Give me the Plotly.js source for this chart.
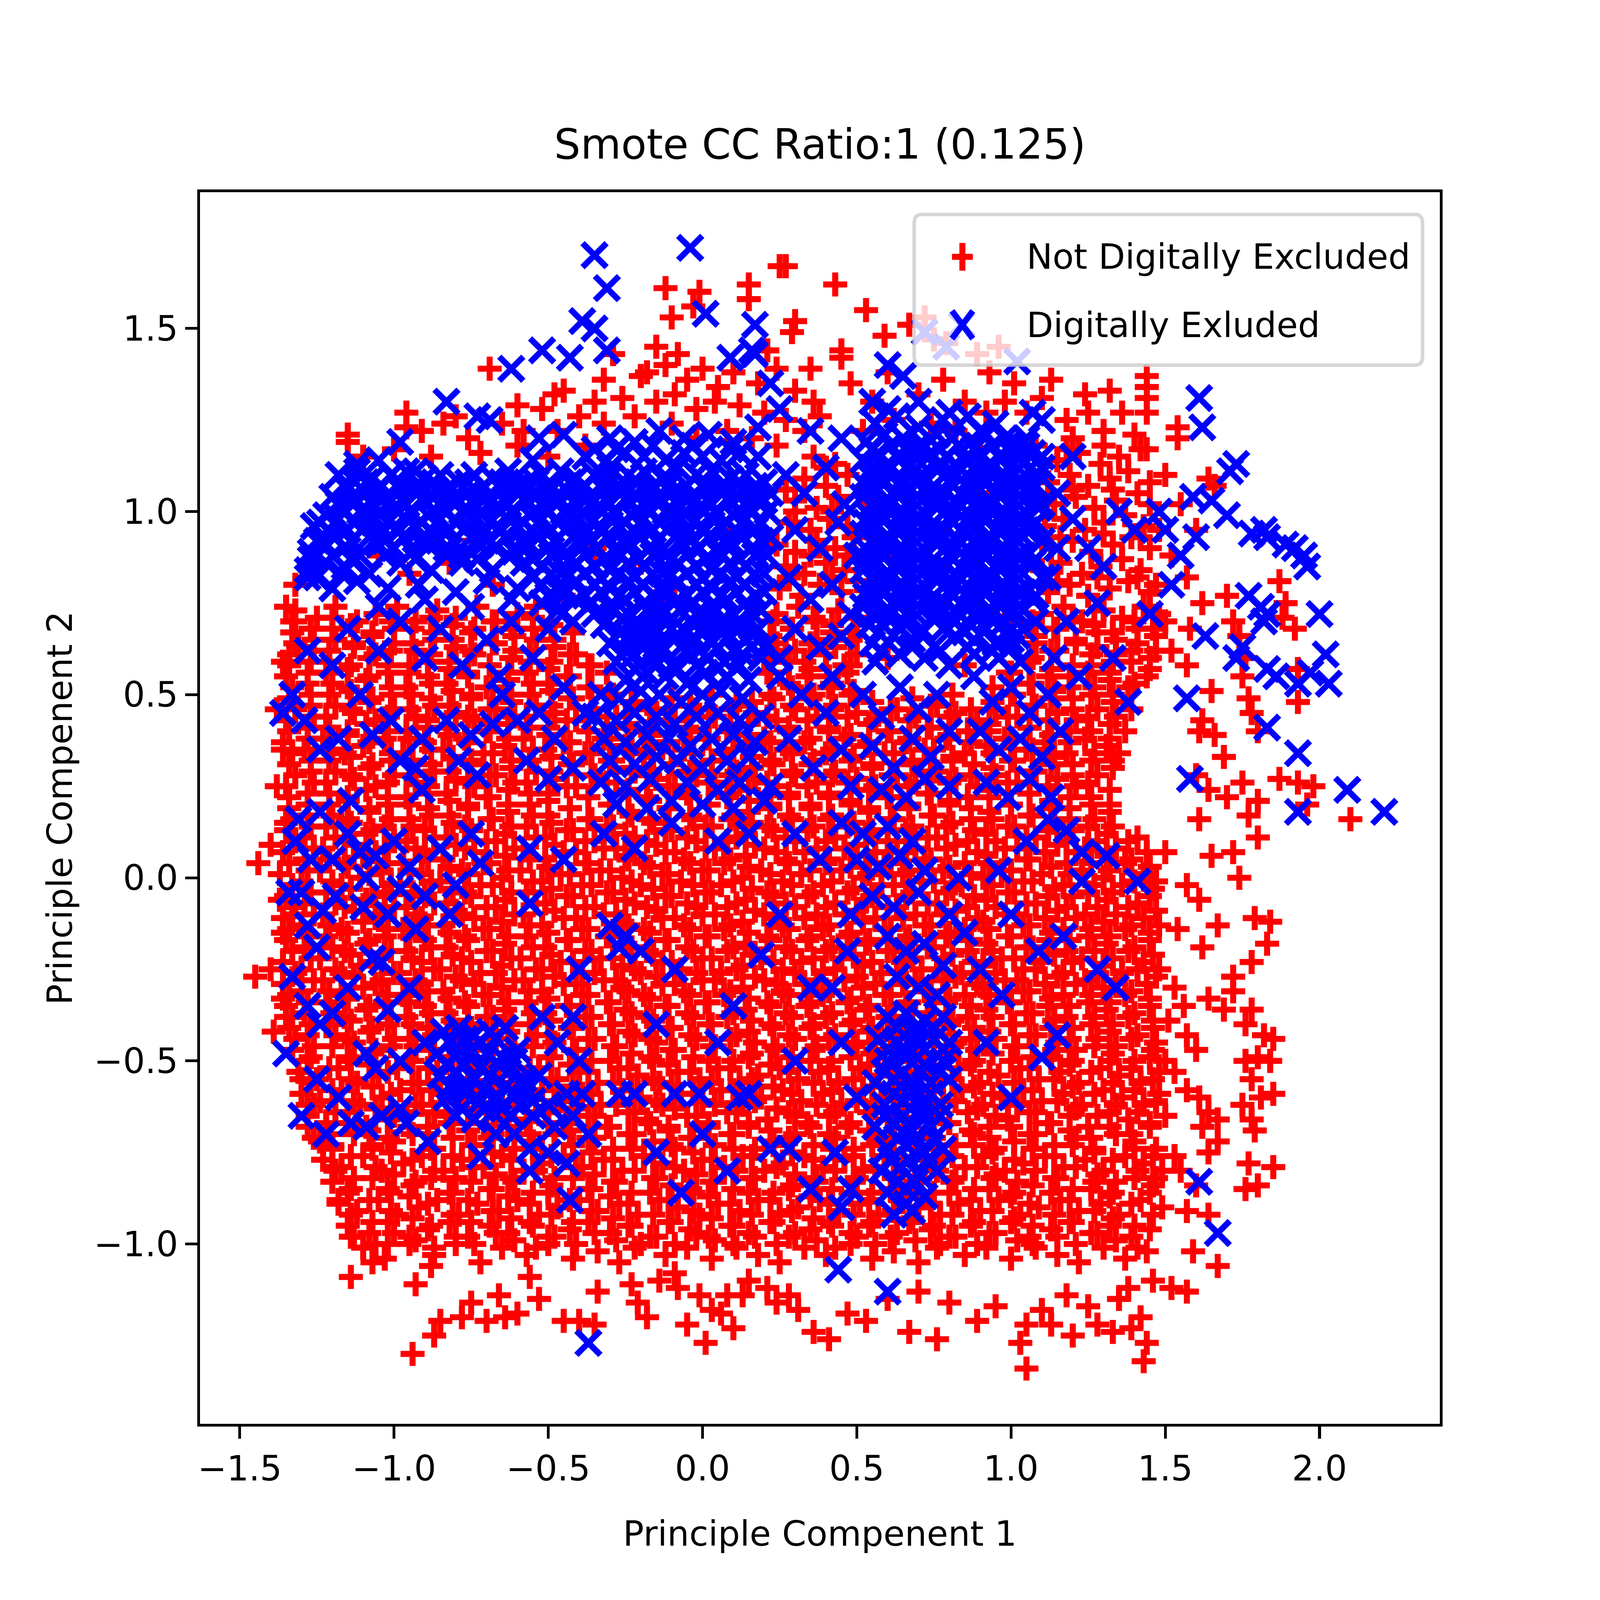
<!DOCTYPE html>
<html>
<head>
<meta charset="utf-8">
<script src="https://cdn.plot.ly/plotly-3.0.1.min.js"></script>
<style>html,body{margin:0;padding:0;background:#fff;overflow:hidden;}</style>
</head>
<body>
<div id="chart"></div>
<script>
// ---------- Data (approximate, PC1 / PC2 coordinates) ----------
const titleText = 'Smote CC Ratio:1 (0.125)';
const xTitle = 'Principle Compenent 1';
const yTitle = 'Principle Compenent 2';
const seriesNames = ['Not Digitally Excluded', 'Digitally Exluded'];
const xTicks = [-1.5, -1.0, -0.5, 0.0, 0.5, 1.0, 1.5, 2.0];
const yTicks = [-1.0, -0.5, 0.0, 0.5, 1.0, 1.5];

// Not Digitally Excluded: dense core, row by row
const redCore = [
[-1.1,-1.01],[-1.03,-1.04],[-.95,-1.0],[-.87,-1.03],[-.8,-1.0],[-.72,-1.05],[-.65,-1.01],[-.57,-1.03],[-.5,-1.0],[-.42,-1.04],[-.34,-1.02],[-.27,-1.05],[-.2,-1.0],[-.12,-1.03],[-.05,-1.01],[.03,-1.04],[.1,-1.0],[.18,-1.03],[.25,-1.05],[.33,-1.01],[.4,-1.03],[.48,-1.0],[.55,-1.04],[.62,-1.02],[.7,-1.05],[.77,-1.0],[.85,-1.03],[.92,-1.01],[1.0,-1.04],[1.07,-1.0],[1.15,-1.03],[1.22,-1.05],[1.3,-1.01],[1.37,-1.04],[1.44,-1.02],
[-1.15,-.95],[-1.08,-.97],[-1.02,-.94],[-.95,-.98],[-.89,-.96],[-.82,-.94],[-.76,-.98],[-.69,-.95],[-.63,-.97],[-.56,-.94],[-.5,-.98],[-.43,-.96],[-.37,-.94],[-.3,-.97],[-.24,-.95],[-.17,-.98],[-.11,-.94],[-.04,-.96],[.02,-.98],[.09,-.95],[.15,-.97],[.22,-.94],[.28,-.98],[.35,-.96],[.41,-.94],[.48,-.97],[.54,-.95],[.61,-.98],[.67,-.94],[.74,-.96],[.8,-.98],[.87,-.95],[.93,-.97],[1.0,-.94],[1.06,-.98],[1.13,-.96],[1.19,-.94],[1.26,-.97],[1.32,-.95],[1.39,-.98],[1.45,-.96],
[-1.18,-.89],[-1.12,-.91],[-1.05,-.88],[-.99,-.92],[-.92,-.9],[-.86,-.88],[-.79,-.92],[-.73,-.89],[-.66,-.91],[-.6,-.88],[-.53,-.92],[-.47,-.9],[-.4,-.88],[-.34,-.91],[-.27,-.89],[-.21,-.92],[-.14,-.88],[-.08,-.9],[-.01,-.92],[.05,-.89],[.12,-.91],[.18,-.88],[.25,-.92],[.31,-.9],[.38,-.88],[.44,-.91],[.51,-.89],[.57,-.92],[.64,-.88],[.7,-.9],[.77,-.92],[.83,-.89],[.9,-.91],[.96,-.88],[1.03,-.92],[1.09,-.9],[1.16,-.88],[1.22,-.91],[1.29,-.89],[1.35,-.92],[1.42,-.88],[1.49,-.9],
[-1.2,-.83],[-1.14,-.85],[-1.07,-.82],[-1.01,-.86],[-.94,-.84],[-.88,-.82],[-.81,-.86],[-.75,-.83],[-.68,-.85],[-.62,-.82],[-.55,-.86],[-.49,-.84],[-.42,-.82],[-.36,-.85],[-.29,-.83],[-.23,-.86],[-.16,-.82],[-.1,-.84],[-.03,-.86],[.03,-.83],[.1,-.85],[.16,-.82],[.23,-.86],[.29,-.84],[.36,-.82],[.42,-.85],[.49,-.83],[.55,-.86],[.62,-.82],[.68,-.84],[.75,-.86],[.81,-.83],[.88,-.85],[.94,-.82],[1.01,-.86],[1.07,-.84],[1.14,-.82],[1.2,-.85],[1.27,-.83],[1.33,-.86],[1.4,-.82],[1.46,-.84],
[-1.23,-.77],[-1.17,-.79],[-1.1,-.76],[-1.04,-.8],[-.97,-.78],[-.91,-.76],[-.84,-.8],[-.78,-.77],[-.71,-.79],[-.65,-.76],[-.58,-.8],[-.52,-.78],[-.45,-.76],[-.39,-.79],[-.32,-.77],[-.26,-.8],[-.19,-.76],[-.13,-.78],[-.06,-.8],[0,-.77],[.07,-.79],[.13,-.76],[.2,-.8],[.26,-.78],[.33,-.76],[.39,-.79],[.46,-.77],[.52,-.8],[.59,-.76],[.65,-.78],[.72,-.8],[.78,-.77],[.85,-.79],[.91,-.76],[.98,-.8],[1.04,-.78],[1.11,-.76],[1.17,-.79],[1.24,-.77],[1.3,-.8],[1.37,-.76],[1.43,-.78],[1.49,-.8],
[-1.26,-.71],[-1.2,-.73],[-1.13,-.7],[-1.07,-.74],[-1.0,-.72],[-.94,-.7],[-.87,-.74],[-.81,-.71],[-.74,-.73],[-.68,-.7],[-.61,-.74],[-.55,-.72],[-.48,-.7],[-.42,-.73],[-.35,-.71],[-.29,-.74],[-.22,-.7],[-.16,-.72],[-.09,-.74],[-.03,-.71],[.04,-.73],[.1,-.7],[.17,-.74],[.23,-.72],[.3,-.7],[.36,-.73],[.43,-.71],[.49,-.74],[.56,-.7],[.62,-.72],[.69,-.74],[.75,-.71],[.82,-.73],[.88,-.7],[.95,-.74],[1.01,-.72],[1.08,-.7],[1.14,-.73],[1.21,-.71],[1.27,-.74],[1.34,-.7],[1.4,-.72],[1.47,-.74],
[-1.28,-.65],[-1.22,-.67],[-1.15,-.64],[-1.09,-.68],[-1.02,-.66],[-.96,-.64],[-.89,-.68],[-.83,-.65],[-.76,-.67],[-.7,-.64],[-.63,-.68],[-.57,-.66],[-.5,-.64],[-.44,-.67],[-.37,-.65],[-.31,-.68],[-.24,-.64],[-.18,-.66],[-.11,-.68],[-.05,-.65],[.02,-.67],[.08,-.64],[.15,-.68],[.21,-.66],[.28,-.64],[.34,-.67],[.41,-.65],[.47,-.68],[.54,-.64],[.6,-.66],[.67,-.68],[.73,-.65],[.8,-.67],[.86,-.64],[.93,-.68],[.99,-.66],[1.06,-.64],[1.12,-.67],[1.19,-.65],[1.25,-.68],[1.32,-.64],[1.38,-.66],[1.45,-.68],[1.5,-.65],
[-1.3,-.59],[-1.24,-.61],[-1.17,-.58],[-1.11,-.62],[-1.04,-.6],[-.98,-.58],[-.91,-.62],[-.85,-.59],[-.78,-.61],[-.72,-.58],[-.65,-.62],[-.59,-.6],[-.52,-.58],[-.46,-.61],[-.39,-.59],[-.33,-.62],[-.26,-.58],[-.2,-.6],[-.13,-.62],[-.07,-.59],[0,-.61],[.06,-.58],[.13,-.62],[.19,-.6],[.26,-.58],[.32,-.61],[.39,-.59],[.45,-.62],[.52,-.58],[.58,-.6],[.65,-.62],[.71,-.59],[.78,-.61],[.84,-.58],[.91,-.62],[.97,-.6],[1.04,-.58],[1.1,-.61],[1.17,-.59],[1.23,-.62],[1.3,-.58],[1.36,-.6],[1.43,-.62],[1.48,-.59],
[-1.31,-.53],[-1.25,-.55],[-1.18,-.52],[-1.12,-.56],[-1.05,-.54],[-.99,-.52],[-.92,-.56],[-.86,-.53],[-.79,-.55],[-.73,-.52],[-.66,-.56],[-.6,-.54],[-.53,-.52],[-.47,-.55],[-.4,-.53],[-.34,-.56],[-.27,-.52],[-.21,-.54],[-.14,-.56],[-.08,-.53],[-.01,-.55],[.05,-.52],[.12,-.56],[.18,-.54],[.25,-.52],[.31,-.55],[.38,-.53],[.44,-.56],[.51,-.52],[.57,-.54],[.64,-.56],[.7,-.53],[.77,-.55],[.83,-.52],[.9,-.56],[.96,-.54],[1.03,-.52],[1.09,-.55],[1.16,-.53],[1.22,-.56],[1.29,-.52],[1.35,-.54],[1.42,-.56],[1.48,-.53],
[-1.33,-.47],[-1.27,-.49],[-1.2,-.46],[-1.14,-.5],[-1.07,-.48],[-1.01,-.46],[-.94,-.5],[-.88,-.47],[-.81,-.49],[-.75,-.46],[-.68,-.5],[-.62,-.48],[-.55,-.46],[-.49,-.49],[-.42,-.47],[-.36,-.5],[-.29,-.46],[-.23,-.48],[-.16,-.5],[-.1,-.47],[-.03,-.49],[.03,-.46],[.1,-.5],[.16,-.48],[.23,-.46],[.29,-.49],[.36,-.47],[.42,-.5],[.49,-.46],[.55,-.48],[.62,-.5],[.68,-.47],[.75,-.49],[.81,-.46],[.88,-.5],[.94,-.48],[1.01,-.46],[1.07,-.49],[1.14,-.47],[1.2,-.5],[1.27,-.46],[1.33,-.48],[1.4,-.5],[1.46,-.47],
[-1.34,-.41],[-1.28,-.43],[-1.21,-.4],[-1.15,-.44],[-1.08,-.42],[-1.02,-.4],[-.95,-.44],[-.89,-.41],[-.82,-.43],[-.76,-.4],[-.69,-.44],[-.63,-.42],[-.56,-.4],[-.5,-.43],[-.43,-.41],[-.37,-.44],[-.3,-.4],[-.24,-.42],[-.17,-.44],[-.11,-.41],[-.04,-.43],[.02,-.4],[.09,-.44],[.15,-.42],[.22,-.4],[.28,-.43],[.35,-.41],[.41,-.44],[.48,-.4],[.54,-.42],[.61,-.44],[.67,-.41],[.74,-.43],[.8,-.4],[.87,-.44],[.93,-.42],[1.0,-.4],[1.06,-.43],[1.13,-.41],[1.19,-.44],[1.26,-.4],[1.32,-.42],[1.39,-.44],[1.46,-.41],
[-1.35,-.35],[-1.29,-.37],[-1.22,-.34],[-1.16,-.38],[-1.09,-.36],[-1.03,-.34],[-.96,-.38],[-.9,-.35],[-.83,-.37],[-.77,-.34],[-.7,-.38],[-.64,-.36],[-.57,-.34],[-.51,-.37],[-.44,-.35],[-.38,-.38],[-.31,-.34],[-.25,-.36],[-.18,-.38],[-.12,-.35],[-.05,-.37],[.01,-.34],[.08,-.38],[.14,-.36],[.21,-.34],[.27,-.37],[.34,-.35],[.4,-.38],[.47,-.34],[.53,-.36],[.6,-.38],[.66,-.35],[.73,-.37],[.79,-.34],[.86,-.38],[.92,-.36],[.99,-.34],[1.05,-.37],[1.12,-.35],[1.18,-.38],[1.25,-.34],[1.31,-.36],[1.38,-.38],[1.45,-.35],
[-1.36,-.29],[-1.3,-.31],[-1.23,-.28],[-1.17,-.32],[-1.1,-.3],[-1.04,-.28],[-.97,-.32],[-.91,-.29],[-.84,-.31],[-.78,-.28],[-.71,-.32],[-.65,-.3],[-.58,-.28],[-.52,-.31],[-.45,-.29],[-.39,-.32],[-.32,-.28],[-.26,-.3],[-.19,-.32],[-.13,-.29],[-.06,-.31],[0,-.28],[.07,-.32],[.13,-.3],[.2,-.28],[.26,-.31],[.33,-.29],[.39,-.32],[.46,-.28],[.52,-.3],[.59,-.32],[.65,-.29],[.72,-.31],[.78,-.28],[.85,-.32],[.91,-.3],[.98,-.28],[1.04,-.31],[1.11,-.29],[1.17,-.32],[1.24,-.28],[1.3,-.3],[1.37,-.32],[1.44,-.29],
[-1.36,-.23],[-1.3,-.25],[-1.24,-.22],[-1.17,-.26],[-1.11,-.24],[-1.04,-.22],[-.98,-.26],[-.91,-.23],[-.85,-.25],[-.78,-.22],[-.72,-.26],[-.65,-.24],[-.59,-.22],[-.52,-.25],[-.46,-.23],[-.39,-.26],[-.33,-.22],[-.26,-.24],[-.2,-.26],[-.13,-.23],[-.07,-.25],[0,-.22],[.06,-.26],[.13,-.24],[.19,-.22],[.26,-.25],[.32,-.23],[.39,-.26],[.45,-.22],[.52,-.24],[.58,-.26],[.65,-.23],[.71,-.25],[.78,-.22],[.84,-.26],[.91,-.24],[.97,-.22],[1.04,-.25],[1.1,-.23],[1.17,-.26],[1.23,-.22],[1.3,-.24],[1.36,-.26],[1.43,-.23],[1.48,-.25],
[-1.35,-.17],[-1.29,-.19],[-1.22,-.16],[-1.16,-.2],[-1.09,-.18],[-1.03,-.16],[-.96,-.2],[-.9,-.17],[-.83,-.19],[-.77,-.16],[-.7,-.2],[-.64,-.18],[-.57,-.16],[-.51,-.19],[-.44,-.17],[-.38,-.2],[-.31,-.16],[-.25,-.18],[-.18,-.2],[-.12,-.17],[-.05,-.19],[.01,-.16],[.08,-.2],[.14,-.18],[.21,-.16],[.27,-.19],[.34,-.17],[.4,-.2],[.47,-.16],[.53,-.18],[.6,-.2],[.66,-.17],[.73,-.19],[.79,-.16],[.86,-.2],[.92,-.18],[.99,-.16],[1.05,-.19],[1.12,-.17],[1.18,-.2],[1.25,-.16],[1.31,-.18],[1.38,-.2],[1.45,-.17],
[-1.36,-.11],[-1.3,-.13],[-1.23,-.1],[-1.17,-.14],[-1.1,-.12],[-1.04,-.1],[-.97,-.14],[-.91,-.11],[-.84,-.13],[-.78,-.1],[-.71,-.14],[-.65,-.12],[-.58,-.1],[-.52,-.13],[-.45,-.11],[-.39,-.14],[-.32,-.1],[-.26,-.12],[-.19,-.14],[-.13,-.11],[-.06,-.13],[0,-.1],[.07,-.14],[.13,-.12],[.2,-.1],[.26,-.13],[.33,-.11],[.39,-.14],[.46,-.1],[.52,-.12],[.59,-.14],[.65,-.11],[.72,-.13],[.78,-.1],[.85,-.14],[.91,-.12],[.98,-.1],[1.04,-.13],[1.11,-.11],[1.17,-.14],[1.24,-.1],[1.3,-.12],[1.37,-.14],[1.43,-.11],[1.48,-.13],
[-1.35,-.05],[-1.29,-.07],[-1.22,-.04],[-1.16,-.08],[-1.09,-.06],[-1.03,-.04],[-.96,-.08],[-.9,-.05],[-.83,-.07],[-.77,-.04],[-.7,-.08],[-.64,-.06],[-.57,-.04],[-.51,-.07],[-.44,-.05],[-.38,-.08],[-.31,-.04],[-.25,-.06],[-.18,-.08],[-.12,-.05],[-.05,-.07],[.01,-.04],[.08,-.08],[.14,-.06],[.21,-.04],[.27,-.07],[.34,-.05],[.4,-.08],[.47,-.04],[.53,-.06],[.6,-.08],[.66,-.05],[.73,-.07],[.79,-.04],[.86,-.08],[.92,-.06],[.99,-.04],[1.05,-.07],[1.12,-.05],[1.18,-.08],[1.25,-.04],[1.31,-.06],[1.38,-.08],[1.45,-.05],
[-1.37,.01],[-1.3,-.01],[-1.24,.02],[-1.17,-.02],[-1.11,0],[-1.04,.02],[-.98,-.02],[-.91,.01],[-.85,-.01],[-.78,.02],[-.72,-.02],[-.65,0],[-.59,.02],[-.52,-.01],[-.46,.01],[-.39,-.02],[-.33,.02],[-.26,0],[-.2,-.02],[-.13,.01],[-.07,-.01],[0,.02],[.06,-.02],[.13,0],[.19,.02],[.26,-.01],[.32,.01],[.39,-.02],[.45,.02],[.52,0],[.58,-.02],[.65,.01],[.71,-.01],[.78,.02],[.84,-.02],[.91,0],[.97,.02],[1.04,-.01],[1.1,.01],[1.17,-.02],[1.23,.02],[1.3,0],[1.36,-.02],[1.43,.01],[1.47,-.01],
[-1.36,.07],[-1.29,.05],[-1.23,.08],[-1.16,.04],[-1.1,.06],[-1.03,.08],[-.97,.04],[-.9,.07],[-.84,.05],[-.77,.08],[-.71,.04],[-.64,.06],[-.58,.08],[-.51,.05],[-.45,.07],[-.38,.04],[-.32,.08],[-.25,.06],[-.19,.04],[-.12,.07],[-.06,.05],[.01,.08],[.07,.04],[.14,.06],[.2,.08],[.27,.05],[.33,.07],[.4,.04],[.46,.08],[.53,.06],[.59,.04],[.66,.07],[.72,.05],[.79,.08],[.85,.04],[.92,.06],[.98,.08],[1.05,.05],[1.11,.07],[1.18,.04],[1.24,.08],[1.31,.06],[1.37,.04],[1.44,.07],
[-1.35,.13],[-1.29,.11],[-1.22,.14],[-1.16,.1],[-1.09,.12],[-1.03,.14],[-.96,.1],[-.9,.13],[-.83,.11],[-.77,.14],[-.7,.1],[-.64,.12],[-.57,.14],[-.51,.11],[-.44,.13],[-.38,.1],[-.31,.14],[-.25,.12],[-.18,.1],[-.12,.13],[-.05,.11],[.01,.14],[.08,.1],[.14,.12],[.21,.14],[.27,.11],[.34,.13],[.4,.1],[.47,.14],[.53,.12],[.6,.1],[.66,.13],[.73,.11],[.79,.14],[.86,.1],[.92,.12],[.99,.14],[1.05,.11],[1.12,.13],[1.18,.1],[1.25,.14],[1.31,.12],[1.38,.1],
[-1.34,.19],[-1.28,.17],[-1.21,.2],[-1.15,.16],[-1.08,.18],[-1.02,.2],[-.95,.16],[-.89,.19],[-.82,.17],[-.76,.2],[-.69,.16],[-.63,.18],[-.56,.2],[-.5,.17],[-.43,.19],[-.37,.16],[-.3,.2],[-.24,.18],[-.17,.16],[-.11,.19],[-.04,.17],[.02,.2],[.09,.16],[.15,.18],[.22,.2],[.28,.17],[.35,.19],[.41,.16],[.48,.2],[.54,.18],[.61,.16],[.67,.19],[.74,.17],[.8,.2],[.87,.16],[.93,.18],[1.0,.2],[1.06,.17],[1.13,.19],[1.19,.16],[1.26,.2],[1.32,.18],
[-1.35,.25],[-1.28,.23],[-1.22,.26],[-1.15,.22],[-1.09,.24],[-1.02,.26],[-.96,.22],[-.89,.25],[-.83,.23],[-.76,.26],[-.7,.22],[-.63,.24],[-.57,.26],[-.5,.23],[-.44,.25],[-.37,.22],[-.31,.26],[-.24,.24],[-.18,.22],[-.11,.25],[-.05,.23],[.02,.26],[.08,.22],[.15,.24],[.21,.26],[.28,.23],[.34,.25],[.41,.22],[.47,.26],[.54,.24],[.6,.22],[.67,.25],[.73,.23],[.8,.26],[.86,.22],[.93,.24],[.99,.26],[1.06,.23],[1.12,.25],[1.19,.22],[1.25,.26],[1.32,.24],
[-1.34,.31],[-1.27,.29],[-1.21,.32],[-1.14,.28],[-1.08,.3],[-1.01,.32],[-.95,.28],[-.88,.31],[-.82,.29],[-.75,.32],[-.69,.28],[-.62,.3],[-.56,.32],[-.49,.29],[-.43,.31],[-.36,.28],[-.3,.32],[-.23,.3],[-.17,.28],[-.1,.31],[-.04,.29],[.03,.32],[.09,.28],[.16,.3],[.22,.32],[.29,.29],[.35,.31],[.42,.28],[.48,.32],[.55,.3],[.61,.28],[.68,.31],[.74,.29],[.81,.32],[.87,.28],[.94,.3],[1.0,.32],[1.07,.29],[1.13,.31],[1.2,.28],[1.26,.32],[1.33,.3],
[-1.36,.37],[-1.29,.35],[-1.23,.38],[-1.16,.34],[-1.1,.36],[-1.03,.38],[-.97,.34],[-.9,.37],[-.84,.35],[-.77,.38],[-.71,.34],[-.64,.36],[-.58,.38],[-.51,.35],[-.45,.37],[-.38,.34],[-.32,.38],[-.25,.36],[-.19,.34],[-.12,.37],[-.06,.35],[.01,.38],[.07,.34],[.14,.36],[.2,.38],[.27,.35],[.33,.37],[.4,.34],[.46,.38],[.53,.36],[.59,.34],[.66,.37],[.72,.35],[.79,.38],[.85,.34],[.92,.36],[.98,.38],[1.05,.35],[1.11,.37],[1.18,.34],[1.24,.38],[1.31,.36],[1.35,.34],
[-1.35,.43],[-1.28,.41],[-1.22,.44],[-1.15,.4],[-1.09,.42],[-1.02,.44],[-.96,.4],[-.89,.43],[-.83,.41],[-.76,.44],[-.7,.4],[-.63,.42],[-.57,.44],[-.5,.41],[-.44,.43],[-.37,.4],[-.31,.44],[-.24,.42],[-.18,.4],[-.11,.43],[-.05,.41],[.02,.44],[.08,.4],[.15,.42],[.21,.44],[.28,.41],[.34,.43],[.41,.4],[.47,.44],[.54,.42],[.6,.4],[.67,.43],[.73,.41],[.8,.44],[.86,.4],[.93,.42],[.99,.44],[1.06,.41],[1.12,.43],[1.19,.4],[1.25,.44],[1.32,.42],[1.37,.4],
[-1.34,.49],[-1.27,.47],[-1.21,.5],[-1.14,.46],[-1.08,.48],[-1.01,.5],[-.95,.46],[-.88,.49],[-.82,.47],[-.75,.5],[-.69,.46],[-.62,.48],[-.56,.5],[-.49,.47],[-.43,.49],[-.36,.46],[-.3,.5],[-.23,.48],[-.17,.46],[-.1,.49],[-.04,.47],[.03,.5],[.09,.46],[.16,.48],[.22,.5],[.29,.47],[.35,.49],[.42,.46],[.48,.5],[.55,.48],[.61,.46],[.68,.49],[.74,.47],[.81,.5],[.87,.46],[.94,.48],[1.0,.5],[1.07,.47],[1.13,.49],[1.2,.46],[1.26,.5],[1.33,.48],[1.39,.46],
[-1.35,.55],[-1.28,.53],[-1.22,.56],[-1.15,.52],[-1.09,.54],[-1.02,.56],[-.96,.52],[-.89,.55],[-.83,.53],[-.76,.56],[-.7,.52],[-.63,.54],[-.57,.56],[-.5,.53],[-.44,.55],[-.37,.52],[-.31,.56],[.21,.56],[.28,.53],[.34,.55],[.41,.52],[.47,.56],[.99,.56],[1.06,.53],[1.12,.55],[1.19,.52],[1.25,.56],[1.32,.54],[1.38,.52],[1.44,.55],
[-1.34,.61],[-1.27,.59],[-1.21,.62],[-1.14,.58],[-1.08,.6],[-1.01,.62],[-.95,.58],[-.88,.61],[-.82,.59],[-.75,.62],[-.69,.58],[-.62,.6],[-.56,.62],[-.49,.59],[-.43,.61],[-.36,.58],[.2,.6],[.27,.62],[.33,.59],[.4,.61],[.46,.58],[.6,.6],[.85,.58],[1.07,.6],[1.13,.62],[1.2,.58],[1.26,.61],[1.33,.59],[1.39,.62],[1.45,.6],
[-1.33,.67],[-1.26,.65],[-1.2,.68],[-1.13,.64],[-1.07,.66],[-1.0,.68],[-.94,.64],[-.87,.67],[-.81,.65],[-.74,.68],[-.68,.64],[-.61,.66],[-.55,.68],[-.48,.65],[-.42,.67],[.22,.66],[.29,.68],[.35,.64],[.42,.67],[.48,.65],[1.08,.66],[1.15,.68],[1.21,.64],[1.28,.67],[1.34,.65],[1.41,.68],[1.47,.66],
[-1.32,.73],[-1.25,.71],[-1.19,.74],[-1.12,.7],[-1.06,.72],[-.99,.74],[-.93,.7],[-.86,.73],[-.8,.71],[-.73,.74],[-.67,.7],[-.6,.72],[-.54,.74],[.24,.72],[.31,.74],[.37,.7],[.44,.73],[.5,.71],[1.1,.72],[1.17,.74],[1.23,.7],[1.3,.73],[1.36,.71],[1.43,.74],[1.48,.72]
];

// Not Digitally Excluded: dense core, in-between rows
const redCoreMid = [
[-1.13,-.98],[-1.06,-1],[-1,-.97],[-.93,-.99],[-.87,-1.01],[-.8,-.98],[-.74,-1],[-.67,-.97],[-.61,-.99],[-.54,-1.01],[-.48,-.98],[-.41,-1],[-.35,-.97],[-.28,-.99],[-.22,-1.01],[-.15,-.98],[-.09,-1],[-.02,-.97],[.04,-.99],[.11,-1.01],[.17,-.98],[.24,-1],[.3,-.97],[.37,-.99],[.43,-1.01],[.5,-.98],[.56,-1],[.63,-.97],[.69,-.99],[.76,-1.01],[.82,-.98],[.89,-1],[.95,-.97],[1.02,-.99],[1.08,-1.01],[1.15,-.98],[1.21,-1],[1.28,-.97],[1.34,-.99],[1.41,-1.01],
[-1.14,-.92],[-1.07,-.94],[-1.01,-.91],[-.94,-.93],[-.88,-.95],[-.81,-.92],[-.75,-.94],[-.68,-.91],[-.62,-.93],[-.55,-.95],[-.49,-.92],[-.42,-.94],[-.36,-.91],[-.29,-.93],[-.23,-.95],[-.16,-.92],[-.1,-.94],[-.03,-.91],[.03,-.93],[.1,-.95],[.16,-.92],[.23,-.94],[.29,-.91],[.36,-.93],[.42,-.95],[.49,-.92],[.55,-.94],[.62,-.91],[.68,-.93],[.75,-.95],[.81,-.92],[.88,-.94],[.94,-.91],[1.01,-.93],[1.07,-.95],[1.14,-.92],[1.2,-.94],[1.27,-.91],[1.33,-.93],[1.4,-.95],[1.46,-.92],
[-1.15,-.86],[-1.08,-.88],[-1.02,-.85],[-.95,-.87],[-.89,-.89],[-.82,-.86],[-.76,-.88],[-.69,-.85],[-.63,-.87],[-.56,-.89],[-.5,-.86],[-.43,-.88],[-.37,-.85],[-.3,-.87],[-.24,-.89],[-.17,-.86],[-.11,-.88],[-.04,-.85],[.02,-.87],[.09,-.89],[.15,-.86],[.22,-.88],[.28,-.85],[.35,-.87],[.41,-.89],[.48,-.86],[.54,-.88],[.61,-.85],[.67,-.87],[.74,-.89],[.8,-.86],[.87,-.88],[.93,-.85],[1,-.87],[1.06,-.89],[1.13,-.86],[1.19,-.88],[1.26,-.85],[1.32,-.87],[1.39,-.89],[1.45,-.86],
[-1.19,-.8],[-1.13,-.82],[-1.06,-.79],[-1,-.81],[-.93,-.83],[-.87,-.8],[-.8,-.82],[-.74,-.79],[-.67,-.81],[-.61,-.83],[-.54,-.8],[-.48,-.82],[-.41,-.79],[-.35,-.81],[-.28,-.83],[-.22,-.8],[-.15,-.82],[-.09,-.79],[-.02,-.81],[.04,-.83],[.11,-.8],[.17,-.82],[.24,-.79],[.3,-.81],[.37,-.83],[.43,-.8],[.5,-.82],[.56,-.79],[.63,-.81],[.69,-.83],[.76,-.8],[.82,-.82],[.89,-.79],[.95,-.81],[1.02,-.83],[1.08,-.8],[1.15,-.82],[1.21,-.79],[1.28,-.81],[1.34,-.83],[1.41,-.8],[1.47,-.82],
[-1.2,-.74],[-1.14,-.76],[-1.07,-.73],[-1.01,-.75],[-.94,-.77],[-.88,-.74],[-.81,-.76],[-.75,-.73],[-.68,-.75],[-.62,-.77],[-.55,-.74],[-.49,-.76],[-.42,-.73],[-.36,-.75],[-.29,-.77],[-.23,-.74],[-.16,-.76],[-.1,-.73],[-.03,-.75],[.03,-.77],[.1,-.74],[.16,-.76],[.23,-.73],[.29,-.75],[.36,-.77],[.42,-.74],[.49,-.76],[.55,-.73],[.62,-.75],[.68,-.77],[.75,-.74],[.81,-.76],[.88,-.73],[.94,-.75],[1.01,-.77],[1.07,-.74],[1.14,-.76],[1.2,-.73],[1.27,-.75],[1.33,-.77],[1.4,-.74],[1.46,-.76],
[-1.28,-.68],[-1.21,-.7],[-1.15,-.67],[-1.08,-.69],[-1.02,-.71],[-.95,-.68],[-.89,-.7],[-.82,-.67],[-.76,-.69],[-.69,-.71],[-.63,-.68],[-.56,-.7],[-.5,-.67],[-.43,-.69],[-.37,-.71],[-.3,-.68],[-.24,-.7],[-.17,-.67],[-.11,-.69],[-.04,-.71],[.02,-.68],[.09,-.7],[.15,-.67],[.22,-.69],[.28,-.71],[.35,-.68],[.41,-.7],[.48,-.67],[.54,-.69],[.61,-.71],[.67,-.68],[.74,-.7],[.8,-.67],[.87,-.69],[.93,-.71],[1,-.68],[1.06,-.7],[1.13,-.67],[1.19,-.69],[1.26,-.71],[1.32,-.68],[1.39,-.7],[1.45,-.67],
[-1.26,-.62],[-1.19,-.64],[-1.13,-.61],[-1.06,-.63],[-1,-.65],[-.93,-.62],[-.87,-.64],[-.8,-.61],[-.74,-.63],[-.67,-.65],[-.61,-.62],[-.54,-.64],[-.48,-.61],[-.41,-.63],[-.35,-.65],[-.28,-.62],[-.22,-.64],[-.15,-.61],[-.09,-.63],[-.02,-.65],[.04,-.62],[.11,-.64],[.17,-.61],[.24,-.63],[.3,-.65],[.37,-.62],[.43,-.64],[.5,-.61],[.56,-.63],[.63,-.65],[.69,-.62],[.76,-.64],[.82,-.61],[.89,-.63],[.95,-.65],[1.02,-.62],[1.08,-.64],[1.15,-.61],[1.21,-.63],[1.28,-.65],[1.34,-.62],[1.41,-.64],[1.47,-.61],
[-1.27,-.56],[-1.2,-.58],[-1.14,-.55],[-1.07,-.57],[-1.01,-.59],[-.94,-.56],[-.88,-.58],[-.81,-.55],[-.75,-.57],[-.68,-.59],[-.62,-.56],[-.55,-.58],[-.49,-.55],[-.42,-.57],[-.36,-.59],[-.29,-.56],[-.23,-.58],[-.16,-.55],[-.1,-.57],[-.03,-.59],[.03,-.56],[.1,-.58],[.16,-.55],[.23,-.57],[.29,-.59],[.36,-.56],[.42,-.58],[.49,-.55],[.55,-.57],[.62,-.59],[.68,-.56],[.75,-.58],[.81,-.55],[.88,-.57],[.94,-.59],[1.01,-.56],[1.07,-.58],[1.14,-.55],[1.2,-.57],[1.27,-.59],[1.33,-.56],[1.4,-.58],[1.46,-.55],
[-1.28,-.5],[-1.21,-.52],[-1.15,-.49],[-1.08,-.51],[-1.02,-.53],[-.95,-.5],[-.89,-.52],[-.82,-.49],[-.76,-.51],[-.69,-.53],[-.63,-.5],[-.56,-.52],[-.5,-.49],[-.43,-.51],[-.37,-.53],[-.3,-.5],[-.24,-.52],[-.17,-.49],[-.11,-.51],[-.04,-.53],[.02,-.5],[.09,-.52],[.15,-.49],[.22,-.51],[.28,-.53],[.35,-.5],[.41,-.52],[.48,-.49],[.54,-.51],[.61,-.53],[.67,-.5],[.74,-.52],[.8,-.49],[.87,-.51],[.93,-.53],[1,-.5],[1.06,-.52],[1.13,-.49],[1.19,-.51],[1.26,-.53],[1.32,-.5],[1.39,-.52],[1.45,-.49],
[-1.32,-.44],[-1.26,-.46],[-1.19,-.43],[-1.13,-.45],[-1.06,-.47],[-1,-.44],[-.93,-.46],[-.87,-.43],[-.8,-.45],[-.74,-.47],[-.67,-.44],[-.61,-.46],[-.54,-.43],[-.48,-.45],[-.41,-.47],[-.35,-.44],[-.28,-.46],[-.22,-.43],[-.15,-.45],[-.09,-.47],[-.02,-.44],[.04,-.46],[.11,-.43],[.17,-.45],[.24,-.47],[.3,-.44],[.37,-.46],[.43,-.43],[.5,-.45],[.56,-.47],[.63,-.44],[.69,-.46],[.76,-.43],[.82,-.45],[.89,-.47],[.95,-.44],[1.02,-.46],[1.08,-.43],[1.15,-.45],[1.21,-.47],[1.28,-.44],[1.34,-.46],[1.41,-.43],[1.47,-.45],
[-1.33,-.38],[-1.27,-.4],[-1.2,-.37],[-1.14,-.39],[-1.07,-.41],[-1.01,-.38],[-.94,-.4],[-.88,-.37],[-.81,-.39],[-.75,-.41],[-.68,-.38],[-.62,-.4],[-.55,-.37],[-.49,-.39],[-.42,-.41],[-.36,-.38],[-.29,-.4],[-.23,-.37],[-.16,-.39],[-.1,-.41],[-.03,-.38],[.03,-.4],[.1,-.37],[.16,-.39],[.23,-.41],[.29,-.38],[.36,-.4],[.42,-.37],[.49,-.39],[.55,-.41],[.62,-.38],[.68,-.4],[.75,-.37],[.81,-.39],[.88,-.41],[.94,-.38],[1.01,-.4],[1.07,-.37],[1.14,-.39],[1.2,-.41],[1.27,-.38],[1.33,-.4],[1.4,-.37],[1.46,-.39],
[-1.34,-.32],[-1.28,-.34],[-1.21,-.31],[-1.15,-.33],[-1.08,-.35],[-1.02,-.32],[-.95,-.34],[-.89,-.31],[-.82,-.33],[-.76,-.35],[-.69,-.32],[-.63,-.34],[-.56,-.31],[-.5,-.33],[-.43,-.35],[-.37,-.32],[-.3,-.34],[-.24,-.31],[-.17,-.33],[-.11,-.35],[-.04,-.32],[.02,-.34],[.09,-.31],[.15,-.33],[.22,-.35],[.28,-.32],[.35,-.34],[.41,-.31],[.48,-.33],[.54,-.35],[.61,-.32],[.67,-.34],[.74,-.31],[.8,-.33],[.87,-.35],[.93,-.32],[1,-.34],[1.06,-.31],[1.13,-.33],[1.19,-.35],[1.26,-.32],[1.32,-.34],[1.39,-.31],[1.45,-.33],
[-1.32,-.26],[-1.26,-.28],[-1.19,-.25],[-1.13,-.27],[-1.06,-.29],[-1,-.26],[-.93,-.28],[-.87,-.25],[-.8,-.27],[-.74,-.29],[-.67,-.26],[-.61,-.28],[-.54,-.25],[-.48,-.27],[-.41,-.29],[-.35,-.26],[-.28,-.28],[-.22,-.25],[-.15,-.27],[-.09,-.29],[-.02,-.26],[.04,-.28],[.11,-.25],[.17,-.27],[.24,-.29],[.3,-.26],[.37,-.28],[.43,-.25],[.5,-.27],[.56,-.29],[.63,-.26],[.69,-.28],[.76,-.25],[.82,-.27],[.89,-.29],[.95,-.26],[1.02,-.28],[1.08,-.25],[1.15,-.27],[1.21,-.29],[1.28,-.26],[1.34,-.28],[1.41,-.25],[1.47,-.27],
[-1.33,-.2],[-1.27,-.22],[-1.2,-.19],[-1.14,-.21],[-1.07,-.23],[-1.01,-.2],[-.94,-.22],[-.88,-.19],[-.81,-.21],[-.75,-.23],[-.68,-.2],[-.62,-.22],[-.55,-.19],[-.49,-.21],[-.42,-.23],[-.36,-.2],[-.29,-.22],[-.23,-.19],[-.16,-.21],[-.1,-.23],[-.03,-.2],[.03,-.22],[.1,-.19],[.16,-.21],[.23,-.23],[.29,-.2],[.36,-.22],[.42,-.19],[.49,-.21],[.55,-.23],[.62,-.2],[.68,-.22],[.75,-.19],[.81,-.21],[.88,-.23],[.94,-.2],[1.01,-.22],[1.07,-.19],[1.14,-.21],[1.2,-.23],[1.27,-.2],[1.33,-.22],[1.4,-.19],[1.46,-.21],
[-1.34,-.14],[-1.28,-.16],[-1.21,-.13],[-1.15,-.15],[-1.08,-.17],[-1.02,-.14],[-.95,-.16],[-.89,-.13],[-.82,-.15],[-.76,-.17],[-.69,-.14],[-.63,-.16],[-.56,-.13],[-.5,-.15],[-.43,-.17],[-.37,-.14],[-.3,-.16],[-.24,-.13],[-.17,-.15],[-.11,-.17],[-.04,-.14],[.02,-.16],[.09,-.13],[.15,-.15],[.22,-.17],[.28,-.14],[.35,-.16],[.41,-.13],[.48,-.15],[.54,-.17],[.61,-.14],[.67,-.16],[.74,-.13],[.8,-.15],[.87,-.17],[.93,-.14],[1,-.16],[1.06,-.13],[1.13,-.15],[1.19,-.17],[1.26,-.14],[1.32,-.16],[1.39,-.13],[1.45,-.15],
[-1.32,-.08],[-1.26,-.1],[-1.19,-.07],[-1.13,-.09],[-1.06,-.11],[-1,-.08],[-.93,-.1],[-.87,-.07],[-.8,-.09],[-.74,-.11],[-.67,-.08],[-.61,-.1],[-.54,-.07],[-.48,-.09],[-.41,-.11],[-.35,-.08],[-.28,-.1],[-.22,-.07],[-.15,-.09],[-.09,-.11],[-.02,-.08],[.04,-.1],[.11,-.07],[.17,-.09],[.24,-.11],[.3,-.08],[.37,-.1],[.43,-.07],[.5,-.09],[.56,-.11],[.63,-.08],[.69,-.1],[.76,-.07],[.82,-.09],[.89,-.11],[.95,-.08],[1.02,-.1],[1.08,-.07],[1.15,-.09],[1.21,-.11],[1.28,-.08],[1.34,-.1],[1.41,-.07],[1.47,-.09],
[-1.33,-.02],[-1.27,-.04],[-1.2,-.01],[-1.14,-.03],[-1.07,-.05],[-1.01,-.02],[-.94,-.04],[-.88,-.01],[-.81,-.03],[-.75,-.05],[-.68,-.02],[-.62,-.04],[-.55,-.01],[-.49,-.03],[-.42,-.05],[-.36,-.02],[-.29,-.04],[-.23,-.01],[-.16,-.03],[-.1,-.05],[-.03,-.02],[.03,-.04],[.1,-.01],[.16,-.03],[.23,-.05],[.29,-.02],[.36,-.04],[.42,-.01],[.49,-.03],[.55,-.05],[.62,-.02],[.68,-.04],[.75,-.01],[.81,-.03],[.88,-.05],[.94,-.02],[1.01,-.04],[1.07,-.01],[1.14,-.03],[1.2,-.05],[1.27,-.02],[1.33,-.04],[1.4,-.01],[1.46,-.03],
[-1.34,.04],[-1.28,.02],[-1.21,.05],[-1.15,.03],[-1.08,.01],[-1.02,.04],[-.95,.02],[-.89,.05],[-.82,.03],[-.76,.01],[-.69,.04],[-.63,.02],[-.56,.05],[-.5,.03],[-.43,.01],[-.37,.04],[-.3,.02],[-.24,.05],[-.17,.03],[-.11,.01],[-.04,.04],[.02,.02],[.09,.05],[.15,.03],[.22,.01],[.28,.04],[.35,.02],[.41,.05],[.48,.03],[.54,.01],[.61,.04],[.67,.02],[.74,.05],[.8,.03],[.87,.01],[.93,.04],[1,.02],[1.06,.05],[1.13,.03],[1.19,.01],[1.26,.04],[1.32,.02],[1.39,.05],[1.45,.03],
[-1.32,.1],[-1.26,.08],[-1.19,.11],[-1.13,.09],[-1.06,.07],[-1,.1],[-.93,.08],[-.87,.11],[-.8,.09],[-.74,.07],[-.67,.1],[-.61,.08],[-.54,.11],[-.48,.09],[-.41,.07],[-.35,.1],[-.28,.08],[-.22,.11],[-.15,.09],[-.09,.07],[-.02,.1],[.04,.08],[.11,.11],[.17,.09],[.24,.07],[.3,.1],[.37,.08],[.43,.11],[.5,.09],[.56,.07],[.63,.1],[.69,.08],[.76,.11],[.82,.09],[.89,.07],[.95,.1],[1.02,.08],[1.08,.11],[1.15,.09],[1.21,.07],[1.28,.1],[1.34,.08],[1.41,.11],
[-1.33,.16],[-1.27,.14],[-1.2,.17],[-1.14,.15],[-1.07,.13],[-1.01,.16],[-.94,.14],[-.88,.17],[-.81,.15],[-.75,.13],[-.68,.16],[-.62,.14],[-.55,.17],[-.49,.15],[-.42,.13],[-.36,.16],[-.29,.14],[-.23,.17],[-.16,.15],[-.1,.13],[-.03,.16],[.03,.14],[.1,.17],[.16,.15],[.23,.13],[.29,.16],[.36,.14],[.42,.17],[.49,.15],[.55,.13],[.62,.16],[.68,.14],[.75,.17],[.81,.15],[.88,.13],[.94,.16],[1.01,.14],[1.07,.17],[1.14,.15],[1.2,.13],[1.27,.16],[1.33,.14],
[-1.34,.22],[-1.28,.2],[-1.21,.23],[-1.15,.21],[-1.08,.19],[-1.02,.22],[-.95,.2],[-.89,.23],[-.82,.21],[-.76,.19],[-.69,.22],[-.63,.2],[-.56,.23],[-.5,.21],[-.43,.19],[-.37,.22],[-.3,.2],[-.24,.23],[-.17,.21],[-.11,.19],[-.04,.22],[.02,.2],[.09,.23],[.15,.21],[.22,.19],[.28,.22],[.35,.2],[.41,.23],[.48,.21],[.54,.19],[.61,.22],[.67,.2],[.74,.23],[.8,.21],[.87,.19],[.93,.22],[1,.2],[1.06,.23],[1.13,.21],[1.19,.19],[1.26,.22],[1.32,.2],
[-1.32,.28],[-1.26,.26],[-1.19,.29],[-1.13,.27],[-1.06,.25],[-1,.28],[-.93,.26],[-.87,.29],[-.8,.27],[-.74,.25],[-.67,.28],[-.61,.26],[-.54,.29],[-.48,.27],[-.41,.25],[-.35,.28],[-.28,.26],[-.22,.29],[-.15,.27],[-.09,.25],[-.02,.28],[.04,.26],[.11,.29],[.17,.27],[.24,.25],[.3,.28],[.37,.26],[.43,.29],[.5,.27],[.56,.25],[.63,.28],[.69,.26],[.76,.29],[.82,.27],[.89,.25],[.95,.28],[1.02,.26],[1.08,.29],[1.15,.27],[1.21,.25],[1.28,.28],
[-1.33,.34],[-1.27,.32],[-1.2,.35],[-1.14,.33],[-1.07,.31],[-1.01,.34],[-.94,.32],[-.88,.35],[-.81,.33],[-.75,.31],[-.68,.34],[-.62,.32],[-.55,.35],[-.49,.33],[-.42,.31],[-.36,.34],[-.29,.32],[-.23,.35],[-.16,.33],[-.1,.31],[-.03,.34],[.03,.32],[.1,.35],[.16,.33],[.23,.31],[.29,.34],[.36,.32],[.42,.35],[.49,.33],[.55,.31],[.62,.34],[.68,.32],[.75,.35],[.81,.33],[.88,.31],[.94,.34],[1.01,.32],[1.07,.35],[1.14,.33],[1.2,.31],[1.27,.34],[1.33,.32],
[-1.34,.4],[-1.28,.38],[-1.21,.41],[-1.15,.39],[-1.08,.37],[-1.02,.4],[-.95,.38],[-.89,.41],[-.82,.39],[-.76,.37],[-.69,.4],[-.63,.38],[-.56,.41],[-.5,.39],[-.43,.37],[-.37,.4],[-.3,.38],[-.24,.41],[-.17,.39],[-.11,.37],[-.04,.4],[.02,.38],[.09,.41],[.15,.39],[.22,.37],[.28,.4],[.35,.38],[.41,.41],[.48,.39],[.54,.37],[.61,.4],[.67,.38],[.74,.41],[.8,.39],[.87,.37],[.93,.4],[1,.38],[1.06,.41],[1.13,.39],[1.19,.37],[1.26,.4],[1.32,.38],
[-1.32,.46],[-1.26,.44],[-1.19,.47],[-1.13,.45],[-1.06,.43],[-1,.46],[-.93,.44],[-.87,.47],[-.8,.45],[-.74,.43],[-.67,.46],[-.61,.44],[-.54,.47],[-.48,.45],[-.41,.43],[-.35,.46],[-.28,.44],[-.22,.47],[-.15,.45],[-.09,.43],[-.02,.46],[.04,.44],[.11,.47],[.17,.45],[.24,.43],[.3,.46],[.37,.44],[.43,.47],[.5,.45],[.56,.43],[.63,.46],[.69,.44],[.76,.47],[.82,.45],[.89,.43],[.95,.46],[1.02,.44],[1.08,.47],[1.15,.45],[1.21,.43],[1.28,.46],[1.34,.44],
[-1.33,.52],[-1.27,.5],[-1.2,.53],[-1.14,.51],[-1.07,.49],[-1.01,.52],[-.94,.5],[-.88,.53],[-.81,.51],[-.75,.49],[-.68,.52],[-.62,.5],[-.55,.53],[-.49,.51],[-.42,.49],[-.36,.52],[-.29,.5],[.23,.49],[.29,.52],[.36,.5],[.42,.53],[.49,.51],[.94,.52],[1.01,.5],[1.07,.53],[1.14,.51],[1.2,.49],[1.27,.52],[1.33,.5],[1.4,.53],
[-1.34,.58],[-1.28,.56],[-1.21,.59],[-1.15,.57],[-1.08,.55],[-1.02,.58],[-.95,.56],[-.89,.59],[-.82,.57],[-.76,.55],[-.69,.58],[-.63,.56],[-.56,.59],[-.5,.57],[-.43,.55],[-.37,.58],[.22,.56],[.28,.59],[.35,.57],[.41,.55],[.48,.58],[1,.56],[1.06,.59],[1.13,.57],[1.19,.55],[1.26,.58],[1.32,.56],[1.39,.59],[1.45,.57],
[-1.32,.64],[-1.26,.62],[-1.19,.65],[-1.13,.63],[-1.06,.61],[-1,.64],[-.93,.62],[-.87,.65],[-.8,.63],[-.74,.61],[-.67,.64],[-.61,.62],[-.54,.65],[-.48,.63],[-.41,.61],[.24,.64],[.3,.62],[.37,.65],[.43,.63],[.5,.61],[1.08,.64],[1.15,.62],[1.21,.65],[1.28,.63],[1.34,.61],[1.41,.64],[1.47,.62],
[-1.33,.7],[-1.27,.68],[-1.2,.71],[-1.14,.69],[-1.07,.67],[-1.01,.7],[-.94,.68],[-.88,.71],[-.81,.69],[-.75,.67],[-.68,.7],[-.62,.68],[-.55,.71],[-.49,.69],[.23,.7],[.29,.68],[.36,.71],[.42,.69],[.49,.67],[1.07,.7],[1.14,.68],[1.2,.71],[1.27,.69],[1.33,.67],[1.4,.7],[1.46,.68]
];

// Not Digitally Excluded: upper part (between and above the blue clusters)
const redUpper = [
[.25,.79],[.32,.77],[.38,.8],[.45,.78],[.5,.81],[1.12,.78],[1.19,.8],[1.25,.77],[1.32,.79],[1.38,.81],[1.45,.78],
[.27,.85],[.33,.83],[.4,.86],[.46,.84],[1.1,.84],[1.16,.86],[1.23,.83],[1.29,.85],[1.36,.87],[1.42,.84],
[.24,.91],[.3,.89],[.37,.92],[.43,.9],[.49,.93],[1.13,.9],[1.2,.92],[1.26,.89],[1.33,.91],[1.39,.93],[1.45,.9],
[.28,.97],[.35,.95],[.41,.98],[.47,.96],[1.11,.96],[1.17,.98],[1.24,.95],[1.3,.97],[1.37,.99],[1.43,.96],
[.3,1.03],[.37,1.01],[.44,1.04],[1.14,1.02],[1.21,1.04],[1.27,1.01],[1.34,1.03],[1.41,1.05],
[.33,1.09],[.4,1.07],[.47,1.1],[1.12,1.08],[1.19,1.1],[1.25,1.07],[1.32,1.09],[1.38,1.11],[1.45,1.08],
[.36,1.15],[.43,1.13],[1.15,1.14],[1.22,1.16],[1.29,1.13],[1.35,1.15],[1.42,1.17],
[.28,.82],[.42,.82],[.35,.88],[.47,.88],[.3,1.0],[.42,1.0],[.27,1.06],[.4,1.12],[1.15,.81],[1.28,.82],[1.41,.82],[1.16,.93],[1.3,.94],[1.42,.93],[1.2,1.06],[1.33,1.06],[1.45,1.02],[1.18,1.17],[1.3,1.18],
[-1.05,.88],[-.95,.83],[-.82,.86],[-.68,.8],[-.74,.92],[-.45,.77],[-.35,.9],[-.2,.86],[-.12,.78],[.08,.95],[.62,.88],[.75,.75],[.9,1.05],[.55,1.02],[.98,.7],
[-1.1,1.15],[-1.0,1.17],[-.88,1.15],[-.72,1.16],[-.6,1.18],[-.5,1.15],[-.38,1.18]
];

// Not Digitally Excluded: sparse points on top
const redTopSparse = [
[-.12,1.61],[-.01,1.6],[.15,1.62],[.15,1.58],[-.1,1.53],[-.03,1.56],[.25,1.67],[.27,1.67],[.3,1.52],[.29,1.49],[.43,1.62],[.53,1.55],[.59,1.48],[.45,1.44],[.45,1.42],[.67,1.51],[.72,1.53],[.75,1.47],[.79,1.46],[.89,1.43],[.96,1.45],[.93,1.38],[1.01,1.35],[1.13,1.36],[1.24,1.32],[1.32,1.33],[1.44,1.37],[1.44,1.34],[1.44,1.31],[1.44,1.27],[1.54,1.23],[1.54,1.2],[1.4,1.21],[1.44,1.17],[1.64,1.09],[1.66,1.07],
[-.29,1.43],[-.69,1.39],[-.48,1.32],[-.15,1.45],[-.08,1.43],[.21,1.44],[.35,1.39],[-.32,1.36],[-.2,1.37],[-1.15,1.21],[-1.15,1.19],[-.96,1.27],[-.96,1.23],[-.91,1.22],[-.8,1.26],[-.76,1.2],[-.84,1.24],[-.65,1.24],
[-.18,1.38],[-.12,1.4],[-.05,1.36],[0,1.39],[.05,1.34],[.1,1.38],[.18,1.35],[.24,1.39],[.3,1.33],[.36,1.3],[-.15,1.3],[-.09,1.32],[-.02,1.28],[.04,1.3],[.12,1.29],[.2,1.27],[.27,1.25],[.33,1.22],[-.22,1.26],[-.1,1.24],[.08,1.22],[.16,1.2],[.24,1.18],[-.02,1.2],[.38,1.26],[-.26,1.31],
[-.52,1.28],[-.45,1.33],[-.4,1.26],[-.35,1.3],[-.58,1.22],[-.47,1.22],[-.32,1.24],[-.6,1.29],
[.48,1.35],[.55,1.3],[.6,1.38],[.52,1.22],[.62,1.25],[.7,1.32],[.78,1.36],[.85,1.3],[.92,1.27],[.98,1.3],[1.05,1.27],[1.1,1.31],[1.18,1.25],[1.25,1.27],[1.3,1.22],[1.36,1.27],[1.2,1.2],[1.08,1.18],[.74,1.24],[.82,1.22],[.9,1.2],
[1.5,1.1],[1.55,1.02],[1.48,.95],[1.52,.88],[1.57,.82],[1.6,.95],[1.47,.8],[1.62,.75],[1.58,.68],[1.52,.62],[1.5,.7]
];

// Not Digitally Excluded: right lobe (PC1 > 1.5)
const redRightLobe = [
[1.87,.81],[1.92,.68],[1.93,.57],[1.93,.48],[1.88,.71],[1.89,.75],[1.7,.77],[1.72,.7],[1.74,.66],[1.76,.6],[1.75,.55],[1.77,.49],[1.78,.45],[1.8,.4],[1.57,.58],[1.65,.51],[1.62,.43],[1.61,.4],[1.66,.39],[1.69,.33],[1.87,.27],[1.93,.26],[1.98,.25],[2.1,.16],[1.96,.2],[1.6,.28],[1.64,.24],[1.7,.22],[1.75,.26],[1.8,.21],[1.61,.16],[1.77,.17],[1.8,.11],[1.5,.07],[1.65,.06],[1.72,.07],[1.74,0],[1.57,-.02],[1.61,-.06],[1.54,-.14],[1.62,-.19],[1.79,-.11],[1.84,-.12],[1.83,-.18],[1.67,-.13],[1.78,-.23],[1.72,-.27],[1.72,-.31],[1.64,-.33],[1.69,-.36],[1.78,-.36],[1.76,-.4],[1.82,-.43],[1.85,-.44],[1.8,-.49],[1.84,-.5],[1.76,-.5],[1.78,-.55],[1.85,-.59],[1.81,-.6],[1.75,-.62],[1.78,-.66],[1.79,-.69],[1.53,-.3],[1.56,-.35],[1.51,-.39],[1.57,-.43],[1.6,-.47],[1.5,-.5],[1.53,-.53],[1.57,-.58],[1.61,-.6],[1.64,-.64],[1.67,-.66],[1.62,-.68],[1.67,-.72],[1.64,-.75],[1.53,-.76],[1.55,-.8],[1.6,-.84],[1.77,-.78],[1.85,-.79],[1.8,-.84],[1.76,-.85],[1.57,-.91],[1.64,-.92],[1.59,-1.02],[1.67,-1.06],[1.52,-1.12],[1.57,-1.13]
];

// Not Digitally Excluded: lower fringe
const redBottomFringe = [
[1.39,-1.23],[1.44,-1.27],[1.43,-1.32],[1.28,-1.22],[1.33,-1.24],[1.05,-1.34],[1.03,-1.27],[1.05,-1.22],[.89,-1.21],[.76,-1.26],[.67,-1.24],[.53,-1.21],[.47,-1.19],[.41,-1.26],[-1.14,-1.09],[-1.07,-1.05],[-1.02,-1],[-.93,-1.11],[-.85,-1.21],[-.87,-1.25],[-.94,-1.3],[-.88,-1.06],[-.78,-1.2],[-.75,-1.16],[-.7,-1.21],[-.66,-1.14],[-.64,-1.2],[-.6,-1.19],[-.56,-1.09],[-.53,-1.15],[-.45,-1.21],[-.4,-1.21],[-.35,-1.22],[-.34,-1.13],[-.23,-1.11],[-.21,-1.16],[-.18,-1.2],[-.14,-1.1],[-.09,-1.08],[-.08,-1.12],[-.05,-1.22],[-.01,-1.14],[.01,-1.27],[.03,-1.18],[.06,-1.19],[.1,-1.23],[.08,-1.14],[.13,-1.14],[.15,-1.1],[.21,-1.12],[.24,-1.16],[.28,-1.14],[.31,-1.18],[.36,-1.24],[.6,-1.15],[.7,-1.13],[.8,-1.16],[.95,-1.17],[1.1,-1.18],[1.18,-1.14],[1.25,-1.17],[1.35,-1.15],[1.42,-1.2],[1.46,-1.1],[1.38,-1.12],[1.2,-1.25],[1.13,-1.22]
];

// Not Digitally Excluded: left edge
const redLeftEdge = [
[-1.44,.04],[-1.45,-.27],[-1.39,-.42],[-1.4,-.25],[-1.36,-.15],[-1.37,-.06],[-1.33,-.1],[-1.36,-.33],[-1.35,-.38],[-1.35,.74],[-1.32,.7],[-1.36,.59],[-1.31,.63],[-1.38,.46],[-1.36,.35],[-1.38,.25],[-1.35,.15],[-1.4,.09],[-1.32,.8],[-1.3,-.55],[-1.28,-.62],[-1.24,-.72],[-1.2,-.79],[-1.18,-.88],[-1.14,-.98]
];

// Digitally Exluded: mid-level scatter (PC2 0.2 .. 0.75)
const blueMid = [
[-1.36,.45],[-1.33,.5],[-1.29,.43],[-1.24,.35],[-1.18,.38],[-1.11,.5],[-1.07,.39],[-1.01,.43],[-.98,.32],[-.93,.3],[-.91,.38],[-.83,.43],[-.79,.32],[-.75,.39],[-.73,.28],[-.91,.24],[-1.14,.21],[-1.24,.18],[-1.31,.16],
[-1.28,.62],[-1.2,.58],[-1.15,.68],[-1.05,.62],[-.98,.7],[-.9,.6],[-.85,.68],[-.78,.58],[-.7,.65],[-.62,.7],[-.66,.55],[-.55,.6],
[-.65,.5],[-.6,.43],[-.53,.45],[-.48,.38],[-.45,.52],[-.42,.3],[-.5,.27],[-.38,.45],[-.57,.32],[-.68,.42],
[-.33,.5],[-.27,.49],[-.2,.51],[-.14,.5],[-.07,.48],[0,.5],[.06,.51],[.13,.49],
[-.35,.44],[-.28,.43],[-.22,.45],[-.15,.44],[-.09,.42],[-.02,.44],[.05,.45],[.12,.43],[.19,.44],
[-.32,.38],[-.25,.37],[-.18,.39],[-.11,.38],[-.04,.36],[.03,.38],[.1,.39],[.17,.37],
[-.3,.32],[-.22,.31],[-.15,.33],[-.08,.32],[0,.3],[.08,.32],[.15,.33],
[-.33,.26],[-.25,.25],[-.17,.27],[-.05,.26],[.05,.24],[.12,.26],
[-.28,.2],[-.18,.19],[-.1,.21],[0,.2],[.1,.19],[.2,.21],
[.25,.55],[.32,.5],[.4,.45],[.28,.38],[.36,.3],[.45,.35],[.48,.25],[.22,.25],[.42,.55],
[.52,.5],[.58,.44],[.64,.52],[.7,.46],[.76,.5],[.55,.36],[.62,.3],[.68,.38],[.74,.33],[.8,.4],[.58,.24],[.66,.22],[.72,.27],[.8,.25],
[.88,.55],[.94,.48],[1.0,.52],[1.06,.45],[1.12,.5],[.9,.4],[.96,.35],[1.03,.38],[1.1,.33],[1.16,.4],[.92,.26],[.99,.22],[1.06,.27],[1.13,.22],[1.0,.65],[1.08,.7],[1.14,.6],
[1.18,.7],[1.22,.55],[1.33,.6],[1.25,.9],[1.3,.85],[1.15,.9],[1.05,.95],[1.1,1.25],[1.15,1.05],[1.2,.98],[1.35,1.0],[1.4,.95],[1.28,.75],[1.12,.82],[1.38,.48],[1.2,1.15],
[.27,1.1],[.33,1.05],[.4,1.12],[.46,1.02],[.3,.95],[.38,.9],[.44,.97],[.5,.88],[.28,.82],[.35,.76],[.42,.8],[.48,.72],[.3,.68],[.38,.63],[.45,.66],[.25,.6]
];

// Digitally Exluded: lower-left group
const blueLowLeft = [
[-1.34,-.04],[-1.3,-.04],[-1.28,-.13],[-1.25,-.19],[-1.19,-.05],[-1.23,-.09],[-1.09,0],[-1.06,.06],[-1.11,.07],[-1.0,.1],[-.95,.03],[-.9,-.05],[-.85,.08],[-.8,-.02],[-.75,.12],[-.72,.04],[-1.15,.12],[-1.2,.05],[-1.02,-.1],[-.93,-.14],[-.82,-.1],[-1.32,.1],[-1.27,.05],[-1.1,-.08],[-.98,-.03],
[-1.33,-.27],[-1.35,-.48],[-1.24,-.4],[-1.2,-.37],[-1.07,-.22],[-1.04,-.23],[-1.02,-.36],[-1.09,-.48],[-1.06,-.52],[-1.14,-.67],[-1.09,-.68],[-1.04,-.65],[-.98,-.63],[-.96,-.67],[-.89,-.72],[-1.18,-.6],[-1.25,-.55],[-1.3,-.65],[-1.22,-.7],[-1.15,-.3],[-.95,-.3],[-.9,-.45],[-.98,-.5],[-1.28,-.35],
[-.84,-.42],[-.79,-.41],[-.74,-.43],[-.69,-.42],[-.64,-.41],
[-.86,-.48],[-.8,-.49],[-.75,-.47],[-.7,-.48],[-.65,-.49],[-.6,-.47],
[-.85,-.54],[-.8,-.53],[-.74,-.55],[-.69,-.54],[-.63,-.53],[-.58,-.55],[-.53,-.54],
[-.83,-.6],[-.77,-.59],[-.72,-.61],[-.66,-.6],[-.61,-.59],[-.55,-.61],
[-.8,-.65],[-.74,-.66],[-.68,-.64],[-.62,-.65],
[-.82,-.45],[-.77,-.44],[-.72,-.45],[-.67,-.44],[-.83,-.51],[-.77,-.51],[-.72,-.52],[-.66,-.51],[-.61,-.5],[-.82,-.57],[-.77,-.57],[-.71,-.58],[-.64,-.57],[-.58,-.57],[-.78,-.63],[-.71,-.63],[-.65,-.63],[-.59,-.62],
[-.72,-.76],[-.67,-.7],[-.61,-.7],[-.56,-.74],[-.56,-.8],[-.5,-.62],[-.44,-.59],[-.39,-.59],[-.52,-.38],[-.42,-.38],[-.47,-.45],[-.4,-.5],
[-.55,-.65],[-.48,-.68],[-.42,-.65],[-.37,-.7],[-.5,-.75],[-.44,-.78],[-.57,-.58]
];

// Digitally Exluded: scattered in the lower middle
const blueLowMid = [
[-.27,-.59],[-.22,-.59],[-.09,-.59],[-.01,-.59],[.12,-.6],[.15,-.59],[.22,-.74],[.28,-.74],[-.07,-.86],[-.43,-.88],[-.25,-.16],[-.09,-.25],[.19,-.21],[-.56,-.07],[-.56,.08],[-.22,.08],[-.3,-.13],[-.2,-.2],[-.27,-.19],[.05,-.45],[.1,-.35],[-.15,-.4],[.3,-.5],[.35,-.3],[.25,-.1],[.05,.1],[.15,.12],[-.1,.15],[.3,.12],[.38,.05],[-.32,.12],[-.45,.05],[-.4,-.25],[0,-.7],[.08,-.8],[.35,-.85],[-.15,-.75],[-.37,-1.27]
];

// Digitally Exluded: lower-right group
const blueLowRight = [
[.6,-.38],[.66,-.37],[.72,-.39],[.78,-.38],
[.57,-.44],[.63,-.45],[.69,-.43],[.75,-.44],[.8,-.45],
[.6,-.5],[.66,-.49],[.72,-.51],[.78,-.5],
[.56,-.56],[.62,-.55],[.68,-.57],[.74,-.56],[.8,-.55],
[.59,-.62],[.65,-.61],[.71,-.63],[.77,-.62],
[.56,-.68],[.62,-.67],[.68,-.69],[.74,-.68],
[.6,-.74],[.66,-.73],[.72,-.75],[.78,-.74],
[.58,-.8],[.64,-.79],[.7,-.81],[.76,-.8],
[.6,-.86],[.66,-.85],[.72,-.87],
[.62,-.92],[.68,-.91],
[.63,-.41],[.69,-.41],[.75,-.41],[.6,-.47],[.66,-.47],[.72,-.47],[.78,-.47],[.59,-.53],[.65,-.53],[.71,-.53],[.77,-.53],[.62,-.59],[.68,-.59],[.74,-.59],[.59,-.65],[.65,-.65],[.71,-.65],[.77,-.65],[.63,-.71],[.69,-.71],[.75,-.71],[.61,-.77],[.67,-.77],[.73,-.77],[.63,-.83],[.69,-.83],[.66,-.89],
[.45,.15],[.52,.12],[.6,.14],[.68,.1],[.5,.05],[.57,.03],[.64,.06],[.72,.02],[.55,-.05],[.62,-.08],[.7,-.04],[.6,-.16],[.66,-.2],[.72,-.18],[.78,-.24],[.63,-.27],[.7,-.3],[.76,-.32],[.48,-.1],[.8,-.1],[.83,0],
[.43,-.75],[.45,-.9],[.48,-.85],[.44,-1.07],[.6,-1.13],[.5,-.6],[.45,-.45],[.42,-.3],[.47,-.2],
[.96,.02],[.97,-.32],[1.09,-.2],[1.1,-.49],[1.15,-.43],[1.17,-.16],[1.23,-.01],[1.28,-.25],[1.34,-.3],[1.41,-.01],[1.31,.06],[1.23,.07],[1.18,.13],[1.0,-.1],[1.05,.1],[.9,-.25],[.92,-.45],[1.12,.16],[1.0,-.6],[.85,-.15]
];

// Digitally Exluded: dense band (PC2 about 0.55 .. 1.2, PC1 < 0.25)
const blueBand = [
[-.3,1.2],[-.22,1.19],[-.14,1.22],[-.06,1.2],[.02,1.21],[.1,1.19],[-.45,1.21],[.18,1.23],
[-.35,1.17],[-.28,1.17],[-.16,1.18],[-.03,1.18],[.09,1.17],
[-.38,1.15],[-.31,1.14],[-.25,1.16],[-.19,1.15],[-.12,1.14],[-.06,1.16],[0,1.15],[.06,1.14],[.12,1.16],[.18,1.15],[-1.12,1.13],[-1.05,1.14],[-.55,1.14],
[-1.18,1.1],[-1.12,1.11],[-1.07,1.09],[-1.01,1.1],[-.96,1.11],[-.9,1.09],[-.85,1.1],[-.79,1.08],[-.74,1.1],[-.68,1.09],[-.63,1.11],[-.57,1.08],[-.52,1.1],[-.46,1.11],[-.41,1.09],[-.35,1.1],[-.3,1.12],[-.24,1.1],[-.19,1.11],[-.13,1.09],[-.08,1.12],[-.02,1.1],[.03,1.11],[.09,1.09],[.14,1.1],[.2,1.08],
[-1.15,1.07],[-1.09,1.08],[-1.04,1.07],[-.98,1.08],[-.93,1.07],[-.87,1.08],[-.82,1.07],[-.76,1.08],[-.71,1.07],[-.65,1.08],[-.6,1.07],[-.54,1.08],[-.49,1.07],[-.43,1.08],[-.38,1.07],[-.32,1.08],[-.27,1.07],[-.21,1.08],[-.16,1.07],[-.1,1.08],[-.05,1.07],[.01,1.08],[.06,1.07],[.12,1.08],[.17,1.07],
[-1.2,1.04],[-1.15,1.06],[-1.09,1.05],[-1.04,1.03],[-.98,1.06],[-.93,1.05],[-.87,1.04],[-.82,1.06],[-.76,1.05],[-.71,1.03],[-.65,1.06],[-.6,1.05],[-.54,1.04],[-.49,1.06],[-.43,1.05],[-.38,1.03],[-.32,1.06],[-.27,1.05],[-.21,1.04],[-.16,1.06],[-.1,1.05],[-.05,1.03],[.01,1.06],[.06,1.05],[.12,1.04],[.17,1.06],[.22,1.05],
[-1.18,1.02],[-1.12,1.03],[-1.07,1.02],[-1.01,1.03],[-.96,1.02],[-.9,1.03],[-.85,1.02],[-.79,1.03],[-.74,1.02],[-.68,1.03],[-.63,1.02],[-.57,1.03],[-.52,1.02],[-.46,1.03],[-.41,1.02],[-.35,1.03],[-.3,1.02],[-.24,1.03],[-.19,1.02],[-.13,1.03],[-.08,1.02],[-.02,1.03],[.03,1.02],[.09,1.03],[.14,1.02],[.2,1.03],
[-1.22,.99],[-1.17,1.01],[-1.11,1.0],[-1.06,.98],[-1.0,1.01],[-.95,1.0],[-.89,.99],[-.84,1.01],[-.78,1.0],[-.73,.98],[-.67,1.01],[-.62,1.0],[-.56,.99],[-.51,1.01],[-.45,1.0],[-.4,.98],[-.34,1.01],[-.29,1.0],[-.23,.99],[-.18,1.01],[-.12,1.0],[-.07,.98],[-.01,1.01],[.04,1.0],[.1,.99],[.15,1.01],[.21,1.0],
[-1.24,.97],[-1.18,.98],[-1.13,.97],[-1.07,.98],[-1.02,.97],[-.96,.98],[-.91,.97],[-.85,.98],[-.8,.97],[-.74,.98],[-.69,.97],[-.63,.98],[-.58,.97],[-.52,.98],[-.47,.97],[-.41,.98],[-.36,.97],[-.3,.98],[-.25,.97],[-.19,.98],[-.14,.97],[-.08,.98],[-.03,.97],[.03,.98],[.08,.97],[.14,.98],[.19,.97],
[-1.26,.96],[-1.2,.94],[-1.15,.95],[-1.09,.96],[-1.04,.94],[-.98,.95],[-.93,.96],[-.87,.94],[-.82,.95],[-.76,.96],[-.71,.94],[-.65,.95],[-.6,.96],[-.54,.94],[-.49,.95],[-.43,.96],[-.38,.94],[-.32,.95],[-.27,.96],[-.21,.94],[-.16,.95],[-.1,.96],[-.05,.94],[.01,.95],[.06,.96],[.12,.94],[.17,.95],[.22,.93],
[-1.25,.92],[-1.19,.93],[-1.14,.92],[-1.08,.93],[-1.03,.92],[-.97,.93],[-.92,.92],[-.86,.93],[-.81,.92],[-.75,.93],[-.7,.92],[-.64,.93],[-.59,.92],[-.53,.93],[-.48,.92],[-.42,.93],[-.37,.92],[-.31,.93],[-.26,.92],[-.2,.93],[-.15,.92],[-.09,.93],[-.04,.92],[.02,.93],[.07,.92],[.13,.93],[.19,.92],
[-1.27,.89],[-1.22,.91],[-1.16,.9],[-1.11,.88],[-1.05,.91],[-1.0,.9],[-.94,.89],[-.89,.91],[-.83,.9],[-.78,.88],[-.72,.91],[-.67,.9],[-.61,.89],[-.56,.91],[-.5,.9],[-.45,.88],[-.39,.91],[-.34,.9],[-.28,.89],[-.23,.91],[-.17,.9],[-.12,.88],[-.06,.91],[-.01,.9],[.05,.89],[.1,.91],[.16,.9],[.21,.88],
[-1.26,.87],[-1.2,.88],[-1.14,.87],[-1.03,.88],[-.93,.87],[-.83,.88],[-.73,.87],[-.63,.88],[-.55,.87],[-.49,.88],[-.43,.87],[-.38,.88],[-.32,.87],[-.27,.88],[-.21,.87],[-.16,.88],[-.1,.87],[-.05,.88],[.01,.87],[.06,.88],[.12,.87],[.17,.88],
[-1.28,.84],[-1.22,.86],[-1.16,.85],[-1.08,.83],[-.98,.86],[-.88,.84],[-.78,.86],[-.68,.84],[-.58,.86],[-.52,.85],[-.46,.83],[-.41,.86],[-.35,.85],[-.3,.84],[-.24,.86],[-.19,.85],[-.13,.83],[-.08,.86],[-.02,.85],[.03,.84],[.09,.86],[.14,.85],[.2,.83],
[-1.25,.82],[-1.17,.83],[-.55,.82],[-.49,.83],[-.44,.82],[-.38,.83],[-.33,.82],[-.27,.83],[-.22,.82],[-.16,.83],[-.11,.82],[-.05,.83],[0,.82],[.06,.83],[.11,.82],[.17,.83],
[-1.2,.79],[-1.12,.81],[-1.02,.79],[-.92,.8],[-.8,.78],[-.7,.81],[-.6,.79],[-.52,.8],[-.46,.78],[-.41,.81],[-.35,.8],[-.3,.79],[-.24,.81],[-.19,.8],[-.13,.78],[-.08,.81],[-.02,.8],[.03,.79],[.09,.81],[.14,.8],[.2,.78],
[-.5,.77],[-.44,.78],[-.38,.77],[-.33,.78],[-.27,.77],[-.22,.78],[-.16,.77],[-.11,.78],[-.05,.77],[0,.78],[.06,.77],[.11,.78],[.17,.77],
[-1.05,.74],[-.9,.76],[-.75,.74],[-.62,.76],[-.52,.75],[-.47,.73],[-.41,.76],[-.36,.75],[-.3,.74],[-.25,.76],[-.19,.75],[-.14,.73],[-.08,.76],[-.03,.75],[.03,.74],[.08,.76],[.14,.75],[.19,.73],
[-.35,.72],[-.29,.73],[-.24,.72],[-.18,.73],[-.13,.72],[-.07,.73],[-.02,.72],[.04,.73],[.1,.72],[.15,.73],
[-.32,.69],[-.26,.71],[-.21,.7],[-.15,.68],[-.1,.71],[-.04,.7],[.01,.69],[.07,.71],[.12,.7],[.18,.68],[-.42,.7],[-.5,.68],
[-.27,.67],[-.21,.68],[-.16,.67],[-.1,.68],[-.05,.67],[.01,.68],[.06,.67],[.12,.68],[.17,.67],
[-.3,.64],[-.24,.66],[-.19,.65],[-.13,.63],[-.08,.66],[-.02,.65],[.03,.64],[.09,.66],[.14,.65],[.2,.63],
[-.25,.62],[-.19,.63],[-.13,.62],[-.07,.63],[-.01,.62],[.05,.63],[.1,.62],[.16,.63],
[-.28,.59],[-.22,.61],[-.16,.6],[-.1,.58],[-.04,.61],[.02,.6],[.07,.59],[.13,.61],[.19,.6],
[-.22,.57],[-.15,.58],[-.08,.57],[-.02,.58],[.05,.57],[.12,.58],
[-.25,.54],[-.18,.56],[-.12,.55],[-.05,.53],[.01,.56],[.08,.55],[.15,.54]
];

// Digitally Exluded: dense blob around PC1 0.5 .. 1.1
const blueBlob = [
[.56,1.24],[.63,1.26],[.7,1.23],[.78,1.25],[.86,1.26],[.95,1.24],
[.53,1.19],[.59,1.21],[.65,1.2],[.7,1.18],[.76,1.21],[.81,1.2],[.87,1.19],[.92,1.21],[.98,1.2],[1.03,1.18],
[.55,1.17],[.61,1.18],[.66,1.17],[.72,1.18],[.77,1.17],[.83,1.18],[.88,1.17],[.94,1.18],[.99,1.17],[1.05,1.18],
[.52,1.14],[.57,1.16],[.63,1.15],[.68,1.13],[.74,1.16],[.79,1.15],[.85,1.14],[.9,1.16],[.96,1.15],[1.01,1.13],[1.07,1.16],
[.55,1.12],[.6,1.13],[.66,1.12],[.71,1.13],[.77,1.12],[.82,1.13],[.88,1.12],[.93,1.13],[.99,1.12],[1.04,1.13],[1.1,1.12],
[.54,1.1],[.6,1.11],[.65,1.09],[.71,1.1],[.76,1.12],[.82,1.1],[.87,1.09],[.93,1.11],[.98,1.1],[1.04,1.08],[1.09,1.1],
[.53,1.07],[.58,1.08],[.64,1.07],[.69,1.08],[.75,1.07],[.8,1.08],[.86,1.07],[.91,1.08],[.97,1.07],[1.02,1.08],[1.08,1.07],
[.52,1.04],[.57,1.06],[.63,1.05],[.68,1.03],[.74,1.06],[.79,1.05],[.85,1.04],[.9,1.06],[.96,1.05],[1.01,1.03],[1.07,1.06],
[.55,1.02],[.6,1.03],[.66,1.02],[.71,1.03],[.77,1.02],[.82,1.03],[.88,1.02],[.93,1.03],[.99,1.02],[1.04,1.03],[1.1,1.02],
[.54,.99],[.6,1.01],[.65,1.0],[.71,.98],[.76,1.01],[.82,1.0],[.87,.99],[.93,1.01],[.98,1.0],[1.04,.98],[1.09,1.01],
[.53,.97],[.58,.98],[.64,.97],[.69,.98],[.75,.97],[.8,.98],[.86,.97],[.91,.98],[.97,.97],[1.02,.98],[1.08,.97],
[.52,.94],[.57,.96],[.63,.95],[.68,.93],[.74,.96],[.79,.95],[.85,.94],[.9,.96],[.96,.95],[1.01,.93],[1.07,.96],
[.55,.92],[.6,.93],[.66,.92],[.71,.93],[.77,.92],[.82,.93],[.88,.92],[.93,.93],[.99,.92],[1.04,.93],[1.1,.92],
[.54,.89],[.6,.91],[.65,.9],[.71,.88],[.76,.91],[.82,.9],[.87,.89],[.93,.91],[.98,.9],[1.04,.88],
[.53,.87],[.58,.88],[.64,.87],[.69,.88],[.75,.87],[.8,.88],[.86,.87],[.91,.88],[.97,.87],[1.02,.88],[1.08,.87],
[.52,.84],[.57,.86],[.63,.85],[.68,.83],[.74,.86],[.79,.85],[.85,.84],[.9,.86],[.96,.85],[1.01,.83],[1.07,.86],
[.55,.82],[.6,.83],[.66,.82],[.71,.83],[.77,.82],[.82,.83],[.88,.82],[.93,.83],[.99,.82],[1.04,.83],[1.1,.82],
[.54,.79],[.6,.81],[.65,.8],[.71,.78],[.76,.81],[.82,.8],[.87,.79],[.93,.81],[.98,.8],[1.04,.78],
[.53,.77],[.58,.78],[.64,.77],[.69,.78],[.75,.77],[.8,.78],[.86,.77],[.91,.78],[.97,.77],[1.02,.78],[1.08,.77],
[.52,.74],[.57,.76],[.63,.75],[.68,.73],[.74,.76],[.79,.75],[.85,.74],[.9,.76],[.96,.75],[1.01,.73],[1.07,.76],
[.55,.72],[.6,.73],[.66,.72],[.71,.73],[.77,.72],[.82,.73],[.88,.72],[.93,.73],[.99,.72],[1.04,.73],
[.54,.69],[.6,.71],[.65,.7],[.71,.68],[.76,.71],[.82,.7],[.87,.69],[.93,.71],[.98,.7],[1.04,.68],
[.57,.67],[.64,.68],[.71,.67],[.78,.68],[.85,.67],[.92,.68],[.99,.67],
[.55,.64],[.62,.66],[.68,.65],[.75,.63],[.82,.66],[.88,.65],[.95,.64],[1.02,.66],
[.58,.62],[.68,.63],[.77,.62],[.86,.63],[.94,.62],[1.0,.63],
[.56,.59],[.64,.61],[.72,.6],[.8,.58],[.88,.61],[.96,.6],[1.03,.59]
];

// Digitally Exluded: sparse points on top
const blueTopSparse = [
[-.35,1.7],[-.04,1.72],[-.31,1.61],[.01,1.54],[-.39,1.52],[-.35,1.5],[.17,1.51],[.16,1.44],[-.52,1.44],[-.43,1.42],[-.31,1.44],[.09,1.42],[.17,1.43],[.22,1.35],[-.62,1.39],[-.83,1.3],[-.98,1.19],[-.73,1.26],[-.69,1.25],[-.53,1.2],[-.93,1.11],[.72,1.49],[.84,1.51],[.79,1.45],[1.02,1.41],[.6,1.4],[.65,1.37],[.55,1.3],[.6,1.28],[.7,1.3],[.8,1.27],[.9,1.22],[1.07,1.27],[1.05,1.2],[1.1,1.15],[-1.26,.96],[-1.27,.87],[-1.28,.82],[.35,1.22],[.25,1.28],[.45,1.2]
];

// Digitally Exluded: sparse points on the right
const blueRightSparse = [
[1.61,1.31],[1.62,1.23],[1.71,1.11],[1.73,1.13],[1.59,1.04],[1.65,1.03],[1.7,.99],[1.78,.94],[1.82,.95],[1.83,.93],[1.89,.91],[1.92,.9],[1.95,.88],[1.96,.85],[2.0,.72],[2.02,.61],[2.03,.53],[1.93,.53],[1.97,.56],[1.83,.57],[1.86,.55],[1.83,.72],[1.82,.7],[1.77,.77],[1.81,.74],[1.73,.6],[1.75,.63],[1.63,.66],[1.57,.49],[1.83,.41],[1.93,.34],[2.09,.24],[2.21,.18],[1.93,.18],[1.58,.27],[1.67,-.97],[1.61,-.83],[1.5,.95],[1.55,.88],[1.48,1.0],[1.52,.8],[1.45,.72],[1.6,.93]
];

// ---------- Build traces ----------
const redPts = [].concat(redCore, redCoreMid, redUpper, redTopSparse, redRightLobe, redBottomFringe, redLeftEdge);
const bluePts = [].concat(blueMid, blueLowLeft, blueLowMid, blueLowRight, blueBand, blueBlob, blueTopSparse, blueRightSparse);

// design is in pixels of a 6400 x 4800 figure (1000 dpi); scale to the real window
const REF_W = 6400, REF_H = 4800;
const W = window.innerWidth || REF_W, H = window.innerHeight || REF_H;
const sx = W / REF_W, sy = H / REF_H;
const s = Math.min(sx, sy), sm = Math.sqrt(sx * sy);
const PT = 1000 / 72; // px per point in the design
const FONT = 'DejaVu Sans, Liberation Sans, sans-serif';
const chartDiv = document.getElementById('chart');
chartDiv.style.width = W + 'px';
chartDiv.style.height = H + 'px';

const traces = [
  {
    type: 'scatter', mode: 'markers', name: seriesNames[0],
    x: redPts.map(p => p[0]), y: redPts.map(p => p[1]),
    marker: {symbol: 'cross-thin', size: 6 * PT / 1.4 * sm, color: '#ff0000', line: {color: '#ff0000', width: 1.5 * PT * sm}},
    hoverinfo: 'skip', showlegend: false
  },
  {
    type: 'scatter', mode: 'markers', name: seriesNames[1],
    x: bluePts.map(p => p[0]), y: bluePts.map(p => p[1]),
    marker: {symbol: 'x-thin', size: 6 * PT * sm, color: '#0000ff', line: {color: '#0000ff', width: 1.5 * PT * sm}},
    hoverinfo: 'skip', showlegend: false
  }
];

// ---------- Layout ----------
const mL = 800, mR = 640, mT = 576, mB = 528;        // design px
const pw = REF_W - mL - mR, ph = REF_H - mT - mB;
const px2x = v => (v - mL) / pw;       // design pixel -> paper x
const py2y = v => (REF_H - mB - v) / ph; // design pixel -> paper y

// legend (matplotlib-style, upper right)
const lx0 = px2x(3657), lx1 = px2x(5691), ly1 = py2y(643), ly0 = py2y(1095);
const rx = 28 / pw, ry = 28 / ph;
const framePath = `M${lx0+rx},${ly0} L${lx1-rx},${ly0} Q${lx1},${ly0} ${lx1},${ly0+ry} L${lx1},${ly1-ry} Q${lx1},${ly1} ${lx1-rx},${ly1} L${lx0+rx},${ly1} Q${lx0},${ly1} ${lx0},${ly1-ry} L${lx0},${ly0+ry} Q${lx0},${ly0} ${lx0+rx},${ly0} Z`;
const kx = px2x(3850), ky1 = py2y(770), ky2 = py2y(974);
const hx = 3 * PT / pw, hy = 3 * PT / ph;
const plusPath = `M${kx-hx},${ky1} L${kx+hx},${ky1} M${kx},${ky1-hy} L${kx},${ky1+hy}`;
const xPath = `M${kx-hx},${ky2-hy} L${kx+hx},${ky2+hy} M${kx-hx},${ky2+hy} L${kx+hx},${ky2-hy}`;

const axisCommon = {
  showline: true, linecolor: 'black', linewidth: 0.8 * PT * s, mirror: true,
  ticks: 'outside', ticklen: 3.5 * PT * s, tickwidth: 0.8 * PT * s, tickcolor: 'black',
  showgrid: false, zeroline: false, tickformat: '.1f',
  tickfont: {family: FONT, size: 10 * PT * s, color: 'black'}
};

const layout = {
  width: W, height: H,
  margin: {l: mL * sx, r: mR * sx, t: mT * sy, b: mB * sy, pad: 0},
  paper_bgcolor: 'white', plot_bgcolor: 'white',
  showlegend: false,
  title: {text: titleText, font: {family: FONT, size: 12 * PT * s, color: 'black'}, x: 0.5, xref: 'paper', xanchor: 'center', y: 1 - 432 / REF_H, yref: 'container', yanchor: 'middle'},
  xaxis: Object.assign({}, axisCommon, {
    range: [-1.629, 2.390], tickvals: xTicks, ticklabelstandoff: 16 * sy,
    title: {text: xTitle, font: {family: FONT, size: 10 * PT * s, color: 'black'}, standoff: 102 * sy}
  }),
  yaxis: Object.assign({}, axisCommon, {
    range: [-1.491, 1.872], tickvals: yTicks, ticklabelstandoff: 38 * sx,
    title: {text: yTitle, font: {family: FONT, size: 10 * PT * s, color: 'black'}, standoff: 45 * sx}
  }),
  shapes: [
    {type: 'path', xref: 'paper', yref: 'paper', path: framePath, fillcolor: 'rgba(255,255,255,0.8)', line: {color: 'rgba(204,204,204,0.8)', width: 1.0 * PT * s}, layer: 'above'},
    {type: 'path', xref: 'paper', yref: 'paper', path: plusPath, line: {color: '#ff0000', width: 1.5 * PT * sm}, layer: 'above'},
    {type: 'path', xref: 'paper', yref: 'paper', path: xPath, line: {color: '#0000ff', width: 1.5 * PT * sm}, layer: 'above'}
  ],
  annotations: [
    {xref: 'paper', yref: 'paper', x: px2x(4104), y: ky1, xanchor: 'left', yanchor: 'middle', showarrow: false, text: seriesNames[0], font: {family: FONT, size: 10 * PT * s, color: 'black'}},
    {xref: 'paper', yref: 'paper', x: px2x(4104), y: ky2, xanchor: 'left', yanchor: 'middle', showarrow: false, text: seriesNames[1], font: {family: FONT, size: 10 * PT * s, color: 'black'}}
  ]
};

Plotly.newPlot(chartDiv, traces, layout, {staticPlot: true, displayModeBar: false});
</script>
</body>
</html>
